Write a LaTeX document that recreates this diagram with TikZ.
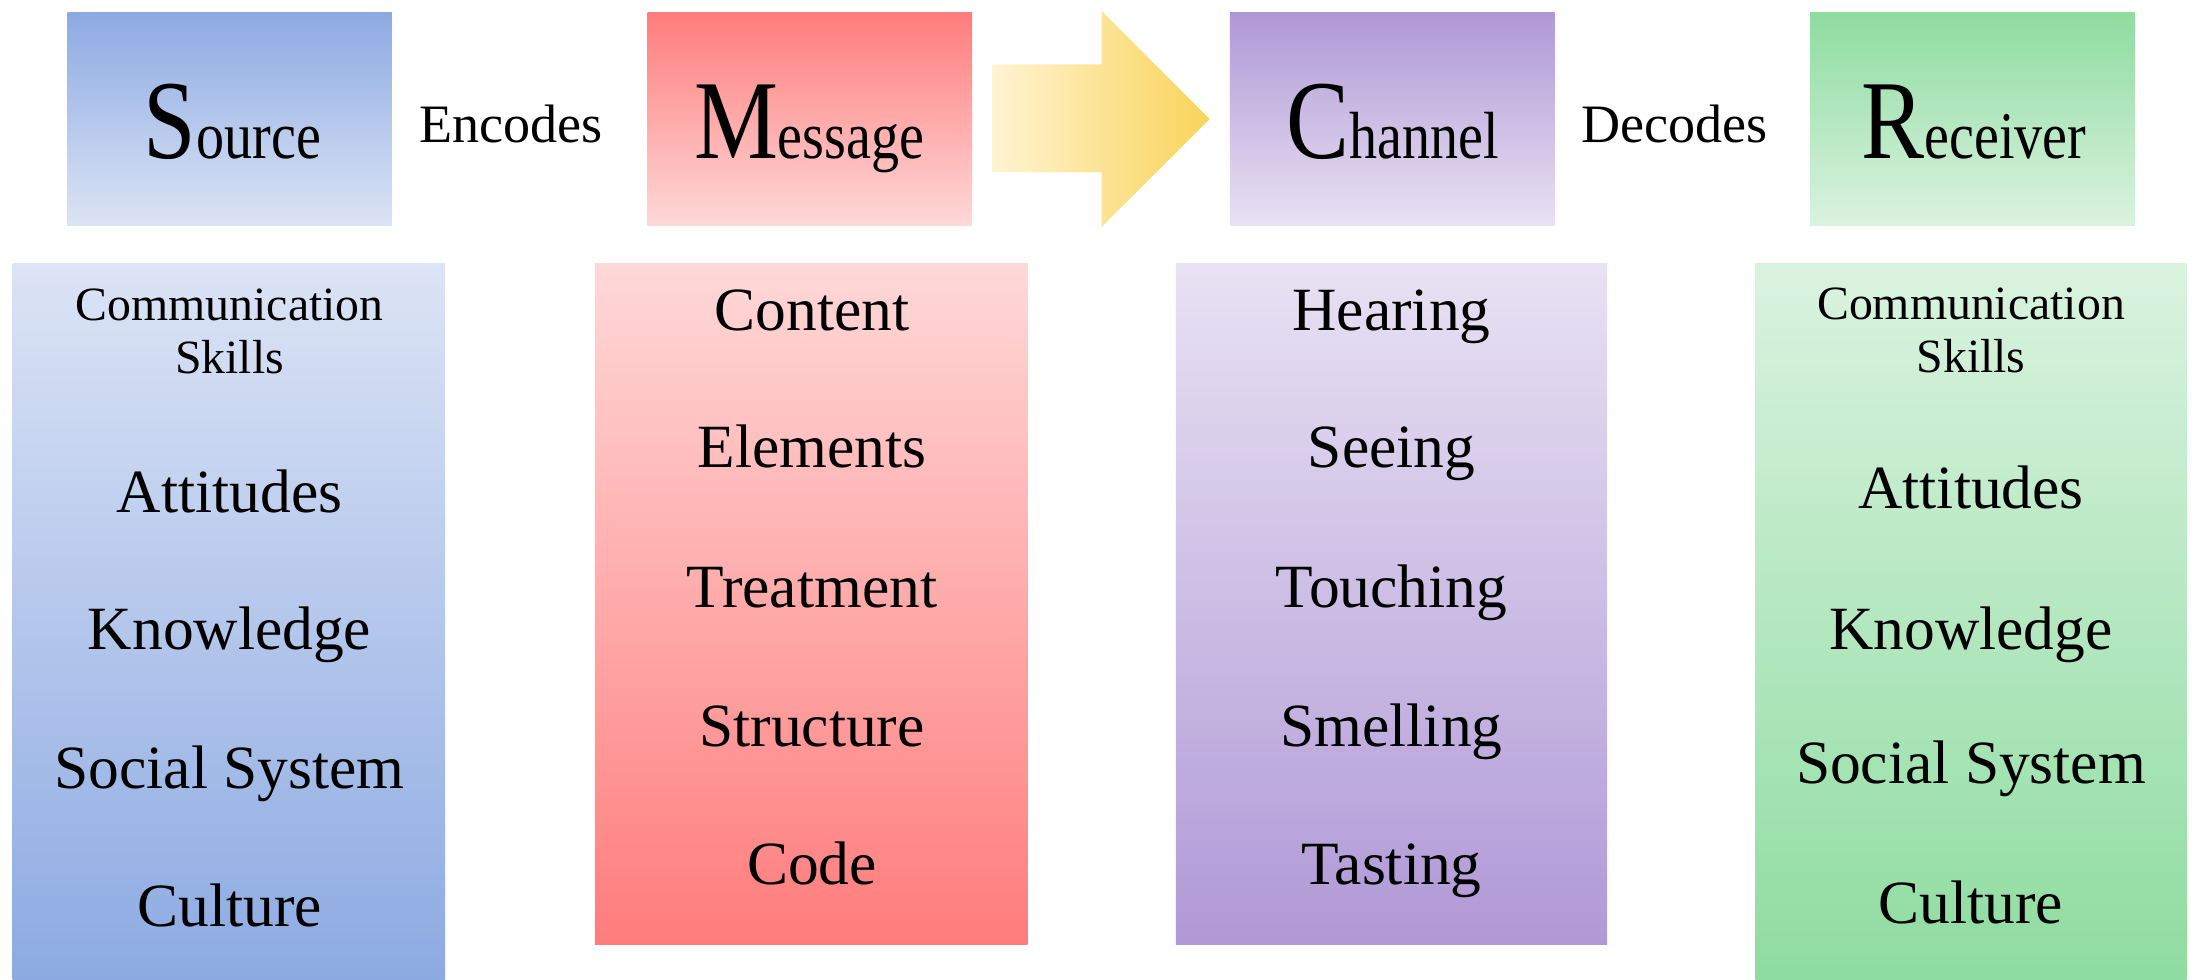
\documentclass[tikz,border=0pt]{standalone}
\usepackage{fontspec}
\setmainfont{Liberation Serif}
\definecolor{blueD}{RGB}{140,170,226}
\definecolor{blueL}{RGB}{220,228,245}
\definecolor{redD}{RGB}{255,124,124}
\definecolor{redL}{RGB}{255,216,216}
\definecolor{purD}{RGB}{176,152,214}
\definecolor{purL}{RGB}{232,226,243}
\definecolor{grnD}{RGB}{142,220,160}
\definecolor{grnL}{RGB}{218,243,224}
\definecolor{arrL}{RGB}{255,244,210}
\definecolor{arrR}{RGB}{249,212,90}
\newcommand{\ttl}[2]{\scalebox{0.84}[1]{{\fontsize{32}{32}\selectfont #1}{\fontsize{19}{19}\selectfont #2}}}
\begin{document}
\begin{tikzpicture}[x=0.014cm,y=-0.014cm,
  topbox/.style={rectangle, inner sep=0pt, minimum width=3.248cm, minimum height=2.128cm},
  title/.style={anchor=base, inner sep=0pt},
  verb/.style={anchor=base, inner sep=0pt, font=\fontsize{15.4}{15.4}\selectfont},
  item/.style={anchor=base, inner sep=0pt, font=\fontsize{17.5}{17.5}\selectfont},
  smallitem/.style={anchor=base, inner sep=0pt, font=\fontsize{13.6}{13.6}\selectfont}]
\useasboundingbox (0,0) rectangle (1568,700);
\fill[white] (0,0) rectangle (1568,700);

% top boxes
\node[topbox, top color=blueD, bottom color=blueL] (srcBox) at (164,85) {};
\node[topbox, top color=redD, bottom color=redL] (msgBox) at (578.5,85) {};
\node[topbox, top color=purD, bottom color=purL] (chaBox) at (994.5,85) {};
\node[topbox, top color=grnD, bottom color=grnL] (recBox) at (1409,85) {};

\node[title] (srcT) at (166,113) {\ttl{S}{ource}};
\node[title] (msgT) at (578,113) {\ttl{M}{essage}};
\node[title] (chaT) at (995,113) {\ttl{C}{hannel}};
\node[title] (recT) at (1410,113) {\ttl{R}{eceiver}};

\node[verb] (enc) at (365,102) {Encodes};
\node[verb] (dec) at (1196,102) {Decodes};

% arrow
\shade[left color=arrL, right color=arrR] (709,46) -- (787,46) -- (787,8) -- (864,85) -- (787,162) -- (787,123) -- (709,123) -- cycle;

% lower boxes
\shade[top color=blueL, bottom color=blueD] (9,188) rectangle (318,700);
\shade[top color=redL, bottom color=redD] (425,188) rectangle (734,675);
\shade[top color=purL, bottom color=purD] (840,188) rectangle (1148,675);
\shade[top color=grnL, bottom color=grnD] (1254,188) rectangle (1562,700);

% source list
\node[smallitem] (s1a) at (164,229) {Communication};
\node[smallitem] (s1b) at (164,267) {Skills};
\node[item] (s2) at (164,366) {Attitudes};
\node[item] (s3) at (164,464) {Knowledge};
\node[item] (s4) at (164,563) {Social System};
\node[item] (s5) at (164,662) {Culture};

% message list
\node[item] (m1) at (580,236) {Content};
\node[item] (m2) at (580,334) {Elements};
\node[item] (m3) at (580,434) {Treatment};
\node[item] (m4) at (580,533) {Structure};
\node[item] (m5) at (580,632) {Code};

% channel list
\node[item] (c1) at (994,236) {Hearing};
\node[item] (c2) at (994,334) {Seeing};
\node[item] (c3) at (994,434) {Touching};
\node[item] (c4) at (994,533) {Smelling};
\node[item] (c5) at (994,632) {Tasting};

% receiver list
\node[smallitem] (r1a) at (1408,228) {Communication};
\node[smallitem] (r1b) at (1408,266) {Skills};
\node[item] (r2) at (1408,363) {Attitudes};
\node[item] (r3) at (1408,464) {Knowledge};
\node[item] (r4) at (1408,560) {Social System};
\node[item] (r5) at (1408,660) {Culture};
\end{tikzpicture}
\end{document}
